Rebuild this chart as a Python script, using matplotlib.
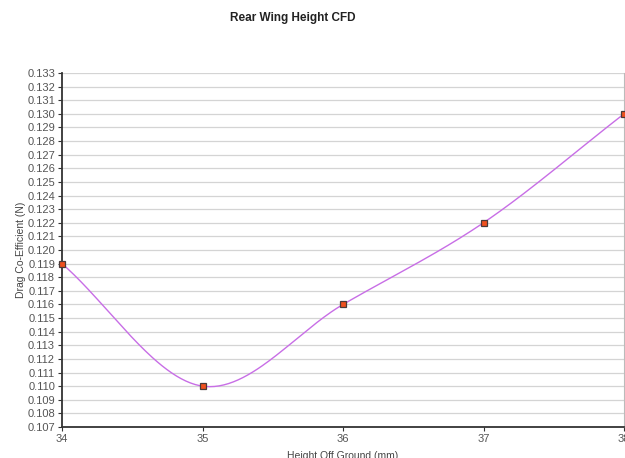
import numpy as np
import matplotlib.pyplot as plt

plt.rcParams['font.family'] = ['Liberation Sans', 'DejaVu Sans']

heights = [34, 35, 36, 37, 38]
drag = [0.119, 0.110, 0.116, 0.122, 0.130]
yticks = [round(0.107 + 0.001 * i, 3) for i in range(27)]


def catmull_rom(x, y, n=60):
    # smooth curve through the points, like the charting tool draws
    x = np.asarray(x, float)
    y = np.asarray(y, float)
    xs, ys = [], []
    for i in range(len(x) - 1):
        m0 = (y[i + 1] - y[i - 1]) / (x[i + 1] - x[i - 1]) if i > 0 else (y[1] - y[0]) / (x[1] - x[0])
        m1 = (y[i + 2] - y[i]) / (x[i + 2] - x[i]) if i + 2 < len(x) else (y[-1] - y[-2]) / (x[-1] - x[-2])
        h = x[i + 1] - x[i]
        t = np.linspace(0, 1, n)
        h00 = 2 * t**3 - 3 * t**2 + 1
        h10 = t**3 - 2 * t**2 + t
        h01 = -2 * t**3 + 3 * t**2
        h11 = t**3 - t**2
        xs.append(x[i] + t * h)
        ys.append(h00 * y[i] + h10 * h * m0 + h01 * y[i + 1] + h11 * h * m1)
    return np.concatenate(xs), np.concatenate(ys)


fig = plt.figure(figsize=(6.25, 4.58), dpi=100)
ax = fig.add_axes([62 / 625, 31 / 458, 562 / 625, 354 / 458])

sx, sy = catmull_rom(heights, drag)
ax.plot(sx, sy, color='#c86ee6', lw=1.0, zorder=3)
ax.plot(heights, drag, ls='none', marker='s', ms=5, mfc='#f0501e', mec='#4a3a3a',
        mew=0.9, zorder=4, clip_on=False)

ax.set_xlim(34, 38)
ax.set_ylim(0.107, 0.133)
ax.set_xticks(heights)
ax.set_yticks(yticks)
ax.set_yticklabels(['%.3f' % v for v in yticks])
ax.grid(axis='y', color='#d4d4d4', lw=0.9)
ax.set_axisbelow(True)

ax.spines['top'].set_visible(False)
ax.spines['right'].set_color('#bbbbbb')
ax.spines['left'].set_color('#333333')
ax.spines['bottom'].set_color('#333333')
ax.spines['left'].set_linewidth(1.3)
ax.spines['bottom'].set_linewidth(1.3)
ax.tick_params(axis='both', labelsize=8, colors='#555555', length=3, width=0.8, pad=2)
ax.tick_params(axis='both', color='#333333')

ax.set_ylabel('Drag Co-Efficient (N)', fontsize=7.5, color='#444444', labelpad=0.5)
ax.set_xlabel('Height Off Ground (mm)', fontsize=7.5, color='#444444', labelpad=5)

fig.text(0.468, 1 - 18 / 458, 'Rear Wing Height CFD', ha='center', va='center',
         fontsize=8.5, fontweight='bold', color='#222222')

plt.savefig('out.png', dpi=100)
